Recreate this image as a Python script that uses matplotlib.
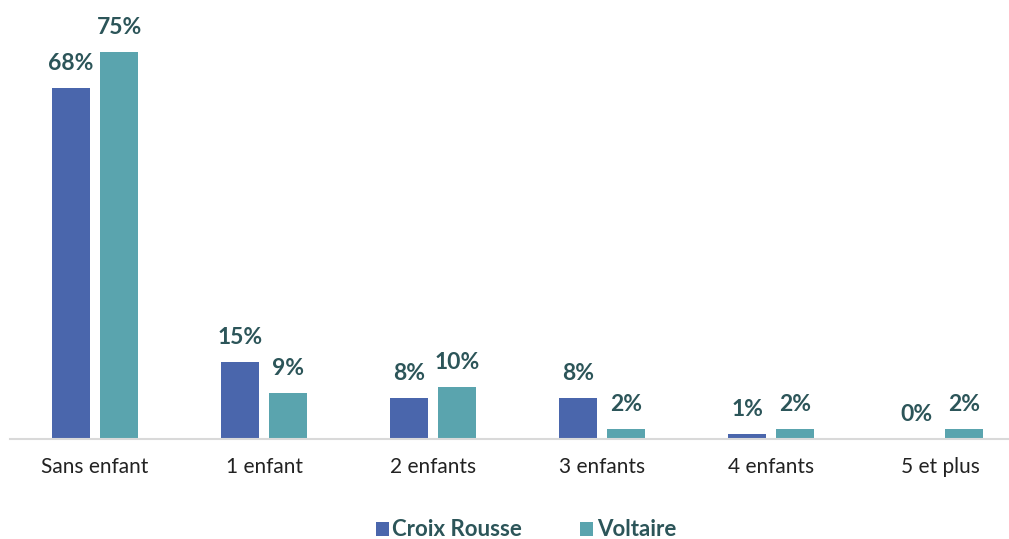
import matplotlib
matplotlib.use("Agg")
import matplotlib.pyplot as plt
import numpy as np

categories = ["Sans enfant", "1 enfant", "2 enfants", "3 enfants", "4 enfants", "5 et plus"]
croix_rousse = [68, 15, 8, 8, 1, 0]
voltaire = [75, 9, 10, 2, 2, 2]
series_names = ["Croix Rousse", "Voltaire"]

blue = "#4A66AC"
teal = "#5AA4AE"
label_color = "#2C5559"

plt.rcParams["font.family"] = ["Lato", "DejaVu Sans"]

fig = plt.figure(figsize=(10.09, 5.39), dpi=100)
ax = fig.add_axes([10 / 1009, 100 / 539, 999 / 1009, 413 / 539])

x = np.arange(len(categories))
width = 0.225
offset = 0.142

b1 = ax.bar(x - offset, croix_rousse, width, color=blue, label=series_names[0])
b2 = ax.bar(x + offset, voltaire, width, color=teal, label=series_names[1])

for bars, vals in ((b1, croix_rousse), (b2, voltaire)):
    for rect, v in zip(bars, vals):
        ax.annotate(f"{v}%", (rect.get_x() + rect.get_width() / 2, v),
                    xytext=(0, 10), textcoords="offset points",
                    ha="center", va="bottom", fontsize=16.5, fontweight="bold",
                    color=label_color)

ax.set_xlim(-0.503, 5.408)
ax.set_ylim(0, 80)
ax.set_xticks(x)
ax.set_xticklabels(categories, fontsize=15, color="#222222")
ax.tick_params(axis="x", length=0, pad=13)
ax.set_yticks([])
for side in ("top", "right", "left"):
    ax.spines[side].set_visible(False)
ax.spines["bottom"].set_color("#D9D9D9")
ax.spines["bottom"].set_linewidth(1.5)

leg = fig.legend(handles=[b1, b2], loc="center", bbox_to_anchor=(526 / 1009, 1 - 530 / 539),
                 ncol=2, frameon=False, handlelength=0.6, handleheight=0.6,
                 handletextpad=0.15, columnspacing=2.6,
                 prop={"size": 16, "weight": "bold"})
for t in leg.get_texts():
    t.set_color(label_color)

fig.savefig("out.png", dpi=100)
